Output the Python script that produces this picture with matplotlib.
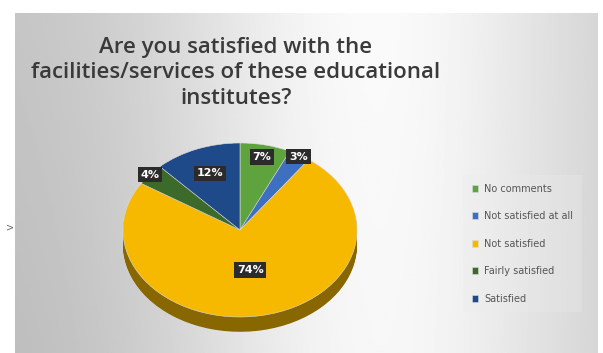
import numpy as np
import matplotlib
matplotlib.use("Agg")
import matplotlib.pyplot as plt
from matplotlib.colors import to_rgb

categories = ["No comments", "Not satisfied at all", "Not satisfied",
              "Fairly satisfied", "Satisfied"]
shares = [7, 3, 74, 4, 12]
colors = ["#5fa33e", "#3f6fc0", "#f7b900", "#3b6a2b", "#1f4a8a"]
label_radius = [0.86, 0.98, 0.47, 1.0, 0.7]

title = "Are you satisfied with the\nfacilities/services of these educational\ninstitutes?"

W, H = 603, 353
fig = plt.figure(figsize=(W / 100, H / 100), dpi=100)
fig.patch.set_facecolor("white")

# grey-to-white chart area backdrop
bg = fig.add_axes([15 / W, 0, 583 / W, 340 / H])
xs = np.linspace(0, 1, 400)
ys = np.linspace(0, 1, 60)[:, None]
shade = 0.76 + 0.22 * np.exp(-((xs - 0.62) / 0.38) ** 2)
img = np.clip(shade[None, :] - 0.03 * (1 - ys) * (1 - xs[None, :]), 0, 1)
bg.imshow(img, cmap="gray", vmin=0, vmax=1, aspect="auto", origin="lower",
          extent=[0, 1, 0, 1], interpolation="bilinear")
bg.set_axis_off()

fig.text(10 / W, 1 - 228 / H, ">", fontsize=7, color="#666666",
         ha="center", va="center")

fig.text(236 / W, 1 - 73 / H, title, ha="center", va="center",
         fontsize=16, fontweight="semibold", color="#3a3a3a",
         family="Open Sans", linespacing=1.3)

# pie axes: squashed vertically to fake the tilted 3D look
cx, cy = 240, H - 230
rx, ry = 117, 87
a, b = 1.5, 1.4
ax = fig.add_axes([(cx - rx * a) / W, (cy - ry * b) / H,
                   2 * rx * a / W, 2 * ry * b / H])
ax.set_axis_off()

depth = 0.17
side_cols = [tuple(c * 0.55 for c in to_rgb(col)) for col in colors]
for off in np.linspace(-depth, -0.01, 18):
    ax.pie(shares, colors=side_cols, startangle=90, counterclock=False,
           center=(0, off), radius=1.0,
           wedgeprops=dict(linewidth=0))

wedges, _ = ax.pie(shares, colors=colors, startangle=90, counterclock=False,
                   radius=1.0, wedgeprops=dict(linewidth=0.4, edgecolor="#dddddd"))
ax.set_xlim(-a, a)
ax.set_ylim(-b, b)
ax.set_aspect("auto")

for w, val, r in zip(wedges, shares, label_radius):
    ang = np.deg2rad((w.theta1 + w.theta2) / 2)
    ax.text(r * np.cos(ang), r * np.sin(ang), f"{val}%", ha="center",
            va="center", fontsize=8, fontweight="bold", color="white",
            bbox=dict(boxstyle="square,pad=0.25", fc="#2b2b2b", ec="none"))

leg = fig.legend(wedges, categories, loc="upper left",
                 bbox_to_anchor=(458 / W, 1 - 170 / H), frameon=True,
                 fancybox=False, facecolor="#ececec", edgecolor="none",
                 framealpha=0.3, borderpad=0.9,
                 fontsize=7, labelspacing=1.8, handlelength=0.7,
                 handleheight=0.7, handletextpad=0.6)
for t in leg.get_texts():
    t.set_color("#555555")

fig.savefig("out.png", dpi=100)
